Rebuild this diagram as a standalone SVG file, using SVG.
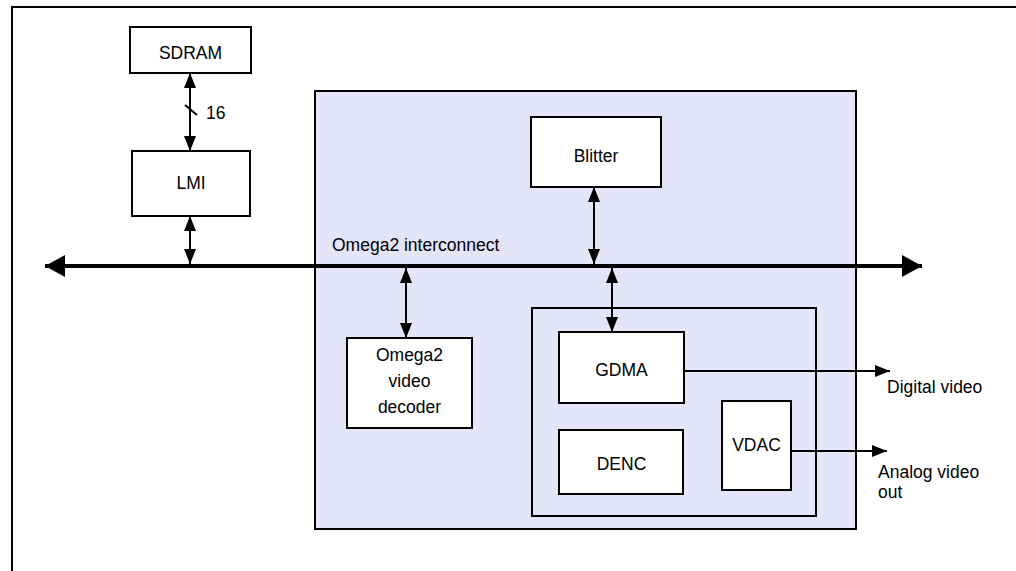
<svg xmlns="http://www.w3.org/2000/svg" width="1016" height="571" viewBox="0 0 1016 571">
<style>
.box{fill:#fff;stroke:#000;stroke-width:2}
.t{font-family:"Liberation Sans",Arial,sans-serif;font-size:17.5px;fill:#000}
.c{text-anchor:middle}
.ln{stroke:#000;stroke-width:2;fill:none}
.bus{stroke:#000;stroke-width:4;fill:none}
</style>
<defs>
<marker id="ah" viewBox="0 0 15 12" refX="15" refY="6" markerWidth="15" markerHeight="12" markerUnits="userSpaceOnUse" orient="auto-start-reverse"><path d="M0,0L15,6L0,12Z" fill="#000"/></marker>
<marker id="bh" viewBox="0 0 20 22" refX="20" refY="11" markerWidth="20" markerHeight="22" markerUnits="userSpaceOnUse" orient="auto-start-reverse"><path d="M0,0L20,11L0,22Z" fill="#000"/></marker>
</defs>
<g id="frame"><path d="M12,571V7H1016" stroke="#000" stroke-width="2" fill="none"/></g>
<g id="subsystem"><rect x="315" y="91" width="541" height="438" fill="#e5e5fa" stroke="#000" stroke-width="2"/></g>
<g id="display"><rect x="532" y="308" width="284" height="208" fill="#e5e5fa" stroke="#000" stroke-width="2"/></g>
<g id="sdram"><rect class="box" x="130" y="27" width="121" height="46"/><text class="t c" x="190.5" y="59">SDRAM</text></g>
<g id="lmi"><rect class="box" x="132" y="151" width="118" height="65"/><text class="t c" x="191" y="189">LMI</text></g>
<g id="blitter"><rect class="box" x="531" y="117" width="130" height="70"/><text class="t c" x="596" y="162">Blitter</text></g>
<g id="decoder"><rect class="box" x="347" y="338" width="125" height="90"/><text class="t c" x="409.5" y="361">Omega2</text><text class="t c" x="409.5" y="387">video</text><text class="t c" x="409.5" y="413">decoder</text></g>
<g id="gdma"><rect class="box" x="559" y="332" width="125" height="71"/><text class="t c" x="621.5" y="376">GDMA</text></g>
<g id="denc"><rect class="box" x="559" y="430" width="124" height="64"/><text class="t c" x="621.5" y="470">DENC</text></g>
<g id="vdac"><rect class="box" x="722" y="401" width="69" height="89"/><text class="t c" x="756.5" y="451">VDAC</text></g>
<g id="connectors">
<line class="bus" x1="45" y1="266" x2="922" y2="266" marker-start="url(#bh)" marker-end="url(#bh)"/>
<line class="ln" x1="190" y1="73" x2="190" y2="151" marker-start="url(#ah)" marker-end="url(#ah)"/>
<line class="ln" x1="185" y1="105" x2="197" y2="115"/>
<line class="ln" x1="190" y1="216" x2="190" y2="264" marker-start="url(#ah)" marker-end="url(#ah)"/>
<line class="ln" x1="594" y1="187" x2="594" y2="264" marker-start="url(#ah)" marker-end="url(#ah)"/>
<line class="ln" x1="406" y1="268" x2="406" y2="338" marker-start="url(#ah)" marker-end="url(#ah)"/>
<line class="ln" x1="612" y1="268" x2="612" y2="332" marker-start="url(#ah)" marker-end="url(#ah)"/>
<line class="ln" x1="684" y1="371" x2="890" y2="371" marker-end="url(#ah)"/>
<line class="ln" x1="791" y1="451" x2="887" y2="451" marker-end="url(#ah)"/>
</g>
<g id="labels">
<text class="t" x="206" y="119">16</text>
<text class="t" x="332" y="251">Omega2 interconnect</text>
<text class="t" x="887" y="393">Digital video</text>
<text class="t" x="878" y="478">Analog video</text>
<text class="t" x="878" y="498">out</text>
</g>
</svg>
